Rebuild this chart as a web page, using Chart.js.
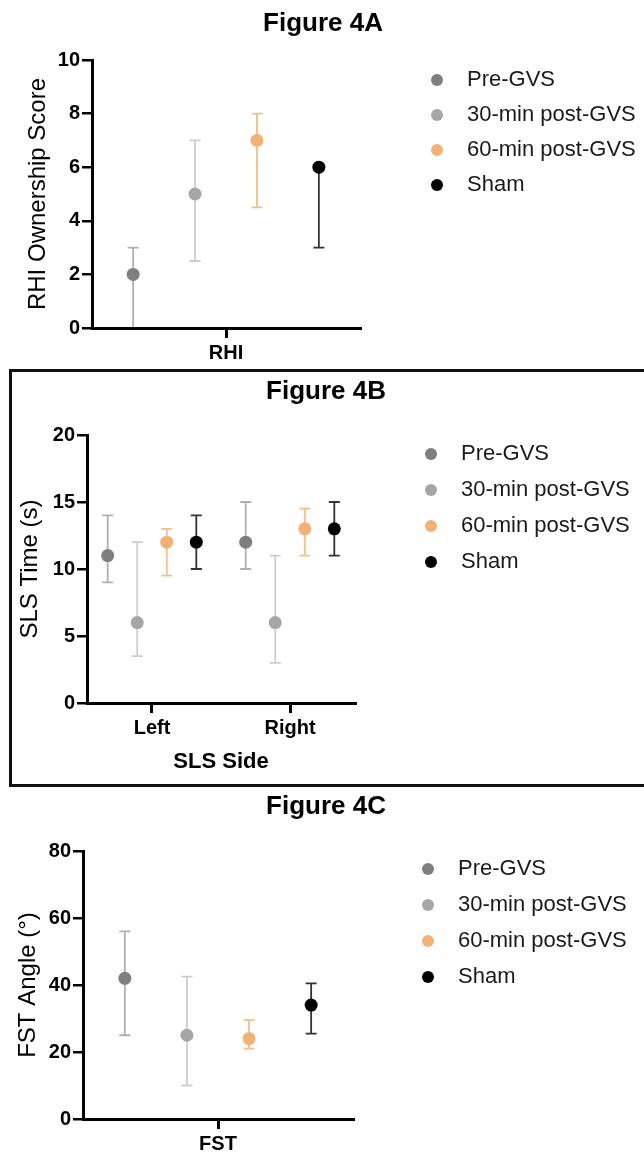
<!DOCTYPE html>
<html>
<head>
<meta charset="utf-8">
<title>Figure 4</title>
<script src="https://cdn.jsdelivr.net/npm/chart.js@4.4.1/dist/chart.umd.min.js"></script>
<style>
  html, body { margin: 0; padding: 0; background: #fff; }
  body { position: relative; width: 644px; height: 1154px; overflow: hidden; }
  canvas { position: absolute; left: 0; }
  #frameB { position: absolute; left: 9px; top: 369px; width: 660px; height: 412px; border: 3px solid #111; }
</style>
</head>
<body>
<div id="frameB"></div>
<canvas id="fig4a" width="644" height="360" style="top:0"></canvas>
<canvas id="fig4b" width="644" height="430" style="top:360px"></canvas>
<canvas id="fig4c" width="644" height="364" style="top:790px"></canvas>
<script>
'use strict';

// groups shown in every panel
var groups = ['Pre-GVS', '30-min post-GVS', '60-min post-GVS', 'Sham'];

// Figure 4A - RHI ownership score (one row per group, one value per category)
var rhiLabels = ['RHI'];
var rhiMean = [[2], [5], [7], [6]];
var rhiLow  = [[0], [2.5], [4.5], [3]];
var rhiHigh = [[3], [7], [8], [6]];
var rhiTicks = [0, 2, 4, 6, 8, 10];

// Figure 4B - single leg stance time
var slsLabels = ['Left', 'Right'];
var slsMean = [[11, 12], [6, 6], [12, 13], [12, 13]];
var slsLow  = [[9, 10], [3.5, 3], [9.5, 11], [10, 11]];
var slsHigh = [[14, 15], [12, 11], [13, 14.5], [14, 15]];
var slsTicks = [0, 5, 10, 15, 20];

// Figure 4C - FST angle
var fstLabels = ['FST'];
var fstMean = [[42], [25], [24], [34]];
var fstLow  = [[25], [10], [21], [25.5]];
var fstHigh = [[56], [42.5], [29.5], [40.5]];
var fstTicks = [0, 20, 40, 60, 80];

var dotColors = ['#7f7f7f', '#a6a6a9', '#f2b176', '#000000'];
var barColors = ['#b0b0b0', '#cdcdcd', '#f3bf8c', '#333333'];
var FONT = '"Liberation Sans", Arial, sans-serif';

// vertical error bars with caps, drawn under the dots
var errorBarPlugin = {
  id: 'errorBars',
  beforeDatasetsDraw: function (chart) {
    var ctx = chart.ctx, xs = chart.scales.x, ys = chart.scales.y;
    var o = chart.options.plugins.errorBars;
    chart.data.datasets.forEach(function (ds) {
      ctx.save();
      ctx.strokeStyle = ds.barColor;
      ctx.lineWidth = o.lineWidth;
      ds.data.forEach(function (p) {
        var x = xs.getPixelForValue(p.x);
        var lo = ys.getPixelForValue(p.lo);
        var hi = ys.getPixelForValue(p.hi);
        ctx.beginPath();
        ctx.moveTo(x, lo); ctx.lineTo(x, hi);
        ctx.moveTo(x - o.cap, lo); ctx.lineTo(x + o.cap, lo);
        ctx.moveTo(x - o.cap, hi); ctx.lineTo(x + o.cap, hi);
        ctx.stroke();
      });
      ctx.restore();
    });
  }
};

// panel heading and the legend on the right
var panelDecor = {
  id: 'panelDecor',
  afterDraw: function (chart) {
    var o = chart.options.plugins.panelDecor, ctx = chart.ctx;
    ctx.save();
    ctx.fillStyle = '#000';
    ctx.font = 'bold 26px ' + FONT;
    ctx.textAlign = 'center';
    ctx.textBaseline = 'alphabetic';
    ctx.fillText(o.title, o.titleX, o.titleY);
    ctx.font = '22px ' + FONT;
    ctx.textAlign = 'left';
    ctx.textBaseline = 'middle';
    chart.data.datasets.forEach(function (ds, i) {
      var y = o.legendY + i * o.legendGap;
      ctx.fillStyle = ds.backgroundColor;
      ctx.beginPath();
      ctx.arc(o.legendX, y, 6, 0, Math.PI * 2);
      ctx.fill();
      ctx.fillStyle = '#1a1a1a';
      ctx.fillText(ds.label, o.legendX + 30, y);
    });
    ctx.restore();
  }
};

function makePanel(id, cfg) {
  var datasets = groups.map(function (g, i) {
    return {
      label: g,
      backgroundColor: dotColors[i],
      barColor: barColors[i],
      pointRadius: 6.5,
      pointHoverRadius: 6.5,
      borderWidth: 0,
      data: cfg.mean[i].map(function (v, c) {
        return { x: c + (i - 1.5) * cfg.spread, y: v, lo: cfg.low[i][c], hi: cfg.high[i][c] };
      })
    };
  });
  var canvas = document.getElementById(id);
  return new Chart(canvas, {
    type: 'scatter',
    data: { datasets: datasets },
    plugins: [errorBarPlugin, panelDecor],
    options: {
      responsive: false,
      animation: false,
      layout: { padding: { top: cfg.area.top, right: canvas.width - cfg.area.right, bottom: 0, left: 0 } },
      plugins: {
        legend: { display: false },
        tooltip: { enabled: false },
        errorBars: { lineWidth: 1.8, cap: 5.5 },
        panelDecor: cfg.decor
      },
      scales: {
        x: {
          type: 'linear',
          min: cfg.xMin,
          max: cfg.xMax,
          afterBuildTicks: function (s) {
            s.ticks = cfg.labels.map(function (l, i) { return { value: i }; });
          },
          afterFit: function (s) { s.height = canvas.height - cfg.area.bottom; },
          ticks: {
            autoSkip: false, maxRotation: 0, padding: 3, color: '#000',
            font: { family: FONT, size: 20, weight: 'bold' },
            callback: function (v) { return cfg.labels[v]; }
          },
          grid: { drawOnChartArea: false, drawTicks: true, tickLength: 10, color: '#000', lineWidth: 3 },
          border: { display: true, color: '#000', width: 3, z: 1 },
          title: {
            display: !!cfg.xTitle, text: cfg.xTitle || '', color: '#000',
            font: { family: FONT, size: 22, weight: 'bold' },
            padding: { top: 0, bottom: 15 }
          }
        },
        y: {
          min: cfg.yTicks[0],
          max: cfg.yTicks[cfg.yTicks.length - 1],
          afterBuildTicks: function (s) {
            s.ticks = cfg.yTicks.map(function (v) { return { value: v }; });
          },
          afterFit: function (s) { s.width = cfg.area.left; },
          ticks: { padding: 2, color: '#000', font: { family: FONT, size: 20, weight: 'bold' } },
          grid: { drawOnChartArea: false, drawTicks: true, tickLength: 10, color: '#000', lineWidth: 2.5 },
          border: { display: true, color: '#000', width: 3, z: 1 },
          title: {
            display: true, text: cfg.yTitle, color: '#000',
            font: { family: FONT, size: 24 },
            padding: { top: cfg.yTitlePad, bottom: 0 }
          }
        }
      }
    }
  });
}

makePanel('fig4a', {
  labels: rhiLabels, mean: rhiMean, low: rhiLow, high: rhiHigh, yTicks: rhiTicks,
  yTitle: 'RHI Ownership Score', yTitlePad: 24,
  xMin: -0.5, xMax: 0.5, spread: 0.231,
  area: { left: 92, right: 360, top: 60, bottom: 328 },
  decor: { title: 'Figure 4A', titleX: 323, titleY: 31, legendX: 437, legendY: 80, legendGap: 35 }
});

makePanel('fig4b', {
  labels: slsLabels, mean: slsMean, low: slsLow, high: slsHigh, yTicks: slsTicks,
  yTitle: 'SLS Time (s)', xTitle: 'SLS Side', yTitlePad: 16,
  xMin: -0.471, xMax: 1.471, spread: 0.214,
  area: { left: 87, right: 355, top: 75, bottom: 343 },
  decor: { title: 'Figure 4B', titleX: 326, titleY: 39, legendX: 431, legendY: 94, legendGap: 36 }
});

makePanel('fig4c', {
  labels: fstLabels, mean: fstMean, low: fstLow, high: fstHigh, yTicks: fstTicks,
  yTitle: 'FST Angle (°)', yTitlePad: 14,
  xMin: -0.5, xMax: 0.5, spread: 0.23,
  area: { left: 83, right: 353, top: 61, bottom: 329 },
  decor: { title: 'Figure 4C', titleX: 326, titleY: 24, legendX: 428, legendY: 79, legendGap: 36 }
});
</script>
</body>
</html>
